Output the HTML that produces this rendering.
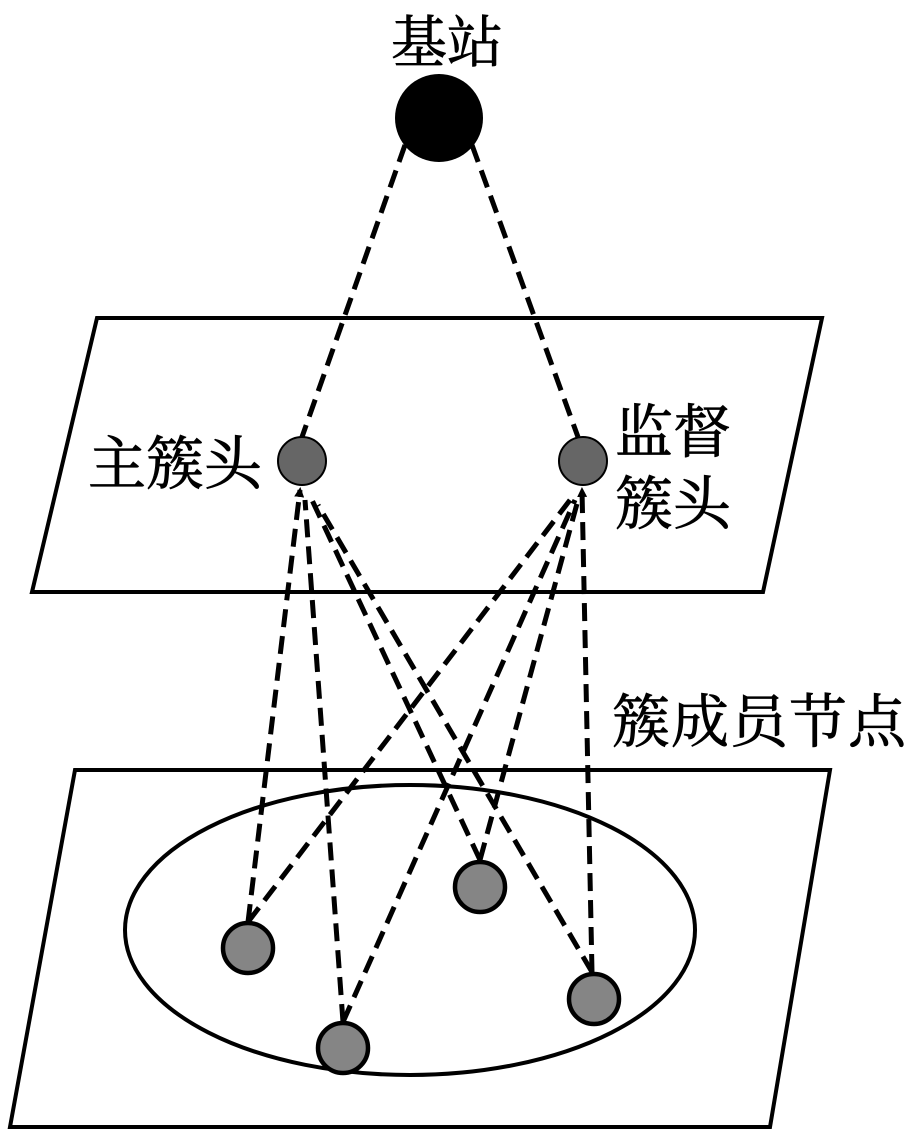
<!DOCTYPE html>
<html><head><meta charset="utf-8"><style>
body{margin:0;background:#fff;}
text{font-family:"Liberation Serif","Noto Serif CJK SC",serif;fill:#000;}
</style></head><body>
<svg width="914" height="1132" viewBox="0 0 914 1132" xmlns="http://www.w3.org/2000/svg">
<defs><marker id="ar" markerWidth="10" markerHeight="10" refX="7" refY="5" orient="auto" markerUnits="userSpaceOnUse"><path d="M0,0 L10,5 L0,10 Z" fill="#000"/></marker></defs>
<polygon points="97,318 822,318 763,592 32,592" fill="none" stroke="#000" stroke-width="4"/>
<polygon points="75,770 830,770 770,1127 10,1127" fill="none" stroke="#000" stroke-width="4"/>
<ellipse cx="410" cy="930" rx="285" ry="145" fill="none" stroke="#000" stroke-width="4"/>
<g stroke="#000" stroke-width="5" stroke-dasharray="18,9" fill="none">
<line x1="405" y1="145" x2="302" y2="437"/>
<line x1="472" y1="145" x2="578" y2="437"/>
<line x1="248" y1="922" x2="300" y2="490" marker-end="url(#ar)"/>
<line x1="343" y1="1022" x2="305" y2="500"/>
<line x1="480" y1="860" x2="312" y2="500"/>
<line x1="592" y1="972" x2="318" y2="505"/>
<line x1="248" y1="922" x2="570" y2="500"/>
<line x1="343" y1="1022" x2="575" y2="500"/>
<line x1="480" y1="860" x2="578" y2="500"/>
<line x1="592" y1="972" x2="582" y2="490" marker-end="url(#ar)"/>
</g>
<circle cx="439" cy="118" r="44" fill="#000"/>
<circle cx="302" cy="461" r="24" fill="#666" stroke="#000" stroke-width="2"/>
<circle cx="583" cy="461" r="24" fill="#666" stroke="#000" stroke-width="2"/>
<g fill="#858585" stroke="#000" stroke-width="4.5">
<circle cx="248" cy="948" r="25"/>
<circle cx="343" cy="1048" r="25"/>
<circle cx="480" cy="887" r="25"/>
<circle cx="594" cy="999" r="25"/>
</g>
<g stroke="#000" stroke-width="0.8">
<text x="447" y="62" font-size="56" text-anchor="middle">基站</text>
<text x="88" y="484" font-size="58">主簇头</text>
<text x="615" y="452" font-size="58">监督</text>
<text x="615" y="524" font-size="58">簇头</text>
<text x="612" y="742" font-size="58" textLength="294">簇成员节点</text>
</g>
</svg>
</body></html>
